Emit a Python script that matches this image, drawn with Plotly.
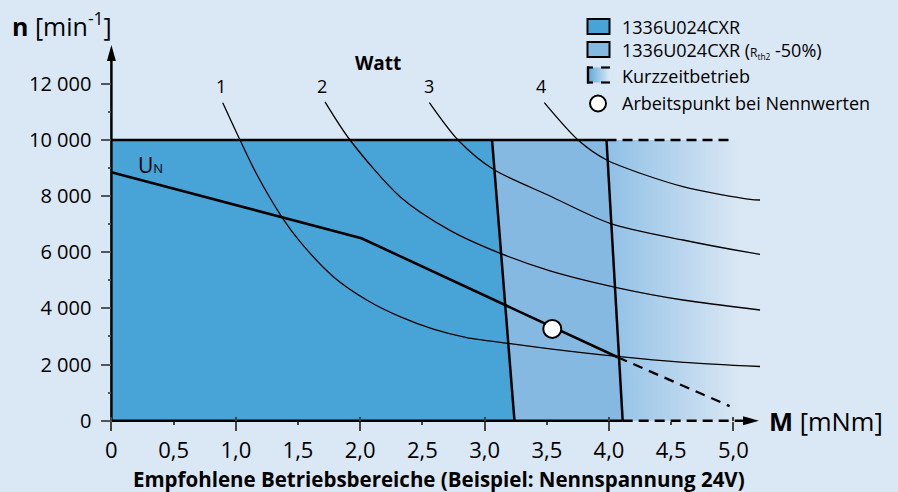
import plotly.graph_objects as go

# ---------------- data ----------------
x_tickvals = [0, 0.5, 1.0, 1.5, 2.0, 2.5, 3.0, 3.5, 4.0, 4.5, 5.0]
x_ticktext = ["0", "0,5", "1,0", "1,5", "2,0", "2,5", "3,0", "3,5", "4,0", "4,5", "5,0"]
x_major = [0, 1, 2, 3, 4, 5]
y_tickvals = [0, 2000, 4000, 6000, 8000, 10000, 12000]
y_ticktext = ["0", "2 000", "4 000", "6 000", "8 000", "10 000", "12 000"]
y_minor = [1000, 3000, 5000, 7000, 9000, 11000]

n_max = 10000
# continuous operation limits: torque at n_max (top) and at n=0 (bottom)
b1_M = [3.06, 3.24]
b2_M = [3.98, 4.11]
short_end_M = 4.97        # end of the dashed n_max line

# U_N characteristic
un_M = [0, 2.01, 4.07]
un_n = [8850, 6500, 2260]
un_dash_M = [4.07, 4.97]
un_dash_n = [2260, 520]

# operating point at rated values
op_M = [3.544]
op_n = [3270]

# power curves 1..4 W
w1_M = [0.895, 1.034, 1.168, 1.377, 1.516, 1.784, 2.052, 2.320, 2.588, 2.856, 3.190, 3.526, 4.064, 4.600, 5.214]
w1_n = [11330, 10000, 8780, 7210, 6380, 5130, 4300, 3705, 3260, 2960, 2757, 2560, 2290, 2080, 1930]
w2_M = [1.717, 1.918, 2.320, 2.718, 3.127, 3.526, 4.089, 4.595, 5.214]
w2_n = [11360, 10000, 7980, 6790, 5960, 5340, 4717, 4300, 3944]
w3_M = [2.556, 2.786, 3.070, 3.526, 4.007, 4.595, 5.134, 5.214]
w3_n = [11330, 10000, 8956, 8005, 7032, 6438, 5985, 5928]
w4_M = [3.480, 3.751, 3.982, 4.595, 5.134, 5.214]
w4_n = [11330, 10000, 9288, 8336, 7887, 7863]
watt_labels = ["1", "2", "3", "4"]
watt_label_M = [0.881, 1.69, 2.555, 3.45]

# ---------------- styling / layout geometry ----------------
W, H = 898, 492
L, R, T, B = 90, 790, 30, 445          # plot area in pixels
x_lo, x_hi = -0.17203, 5.45498
y_lo, y_hi = -865.7, 13918.8
x_arrow_tip = 5.206
y_arrow_tip = 13384

BG = "#dae7f4"
C1 = "#48a3d7"
C2 = "#85b9e1"
CG = "#8fc0e6"
FONT = "Open Sans"
NARROW = "Liberation Sans Narrow, Open Sans"

def pap_x(p):  # pixel -> paper
    return (p - L) / (R - L)

def pap_y(p):
    return (B - p) / (B - T)

dx_px = (x_hi - x_lo) / (R - L)   # data units per pixel
dy_px = (y_hi - y_lo) / (B - T)

fig = go.Figure()

# regions
fig.add_trace(go.Scatter(x=[0, 0, b1_M[0], b1_M[1]], y=[0, n_max, n_max, 0],
                         fill="toself", fillcolor=C1, mode="none", hoverinfo="skip"))
fig.add_trace(go.Scatter(x=[b1_M[1], b1_M[0], b2_M[0], b2_M[1]], y=[0, n_max, n_max, 0],
                         fill="toself", fillcolor=C2, mode="none", hoverinfo="skip"))
fig.add_trace(go.Scatter(x=[b2_M[1], b2_M[0], x_arrow_tip + 0.1, x_arrow_tip + 0.1], y=[0, n_max, n_max, 0],
                         fill="toself", mode="none", hoverinfo="skip",
                         fillgradient=dict(type="horizontal", start=b2_M[0], stop=5.05,
                                           colorscale=[[0, CG], [1, BG]])))

# power curves
for wm, wn in [(w1_M, w1_n), (w2_M, w2_n), (w3_M, w3_n), (w4_M, w4_n)]:
    fig.add_trace(go.Scatter(x=wm, y=wn, mode="lines",
                             line=dict(color="black", width=1.3, shape="spline", smoothing=0.8),
                             hoverinfo="skip"))

# limit lines
fig.add_trace(go.Scatter(x=b1_M, y=[n_max, 0], mode="lines", line=dict(color="black", width=2.5), hoverinfo="skip"))
fig.add_trace(go.Scatter(x=b2_M, y=[n_max, 0], mode="lines", line=dict(color="black", width=2.5), hoverinfo="skip"))
fig.add_trace(go.Scatter(x=[0, b2_M[0]], y=[n_max, n_max], mode="lines", line=dict(color="black", width=2.5), hoverinfo="skip"))
fig.add_trace(go.Scatter(x=[b2_M[0], short_end_M], y=[n_max, n_max], mode="lines",
                         line=dict(color="black", width=2.5, dash="10px,6px"), hoverinfo="skip"))
# axes lines
fig.add_trace(go.Scatter(x=[0, b2_M[1]], y=[0, 0], mode="lines", line=dict(color="black", width=2.5), hoverinfo="skip"))
fig.add_trace(go.Scatter(x=[b2_M[1], x_arrow_tip - 10 * dx_px], y=[0, 0], mode="lines",
                         line=dict(color="black", width=2.5, dash="10px,6px"), hoverinfo="skip"))
fig.add_trace(go.Scatter(x=[0, 0], y=[0, y_arrow_tip - 8 * dy_px], mode="lines",
                         line=dict(color="black", width=2.5), hoverinfo="skip"))

# U_N
fig.add_trace(go.Scatter(x=un_M, y=un_n, mode="lines", line=dict(color="black", width=2.6), hoverinfo="skip"))
fig.add_trace(go.Scatter(x=un_dash_M, y=un_dash_n, mode="lines",
                         line=dict(color="black", width=2.3, dash="10px,7px"), hoverinfo="skip"))
fig.add_trace(go.Scatter(x=op_M, y=op_n, mode="markers",
                         marker=dict(size=18, color="white", line=dict(color="black", width=2)), hoverinfo="skip"))

# dummy traces for overlay axes
fig.add_trace(go.Scatter(x=[0], y=[0], xaxis="x2", mode="markers", marker=dict(opacity=0), hoverinfo="skip"))
fig.add_trace(go.Scatter(x=[0], y=[0], xaxis="x3", mode="markers", marker=dict(opacity=0), hoverinfo="skip"))

x_pos = (0 - y_lo) / (y_hi - y_lo)
y_pos = (0 - x_lo) / (x_hi - x_lo)
common_x = dict(range=[x_lo, x_hi], showgrid=False, zeroline=False, showline=False, anchor="free", position=x_pos)

fig.update_layout(
    width=W, height=H, margin=dict(l=L, r=W - R, t=T, b=H - B),
    paper_bgcolor=BG, plot_bgcolor=BG, showlegend=False,
    font=dict(family=FONT, color="black"),
    xaxis=dict(**common_x, tickmode="array", tickvals=x_tickvals, ticktext=x_ticktext,
               ticks="outside", ticklen=3, tickwidth=1.5, tickcolor="#444",
               tickfont=dict(family=NARROW, size=22), ticklabelstandoff=7),
    xaxis2=dict(**common_x, overlaying="x", tickmode="array", tickvals=x_major, ticks="outside",
                ticklen=9, tickwidth=1.5, tickcolor="#444", showticklabels=False),
    xaxis3=dict(**common_x, overlaying="x", tickmode="array", tickvals=x_major, ticks="inside",
                ticklen=4, tickwidth=1.5, tickcolor="#444", showticklabels=False),
    yaxis=dict(range=[y_lo, y_hi], showgrid=False, zeroline=False, showline=False, anchor="free", position=y_pos,
               tickmode="array", tickvals=y_tickvals, ticktext=y_ticktext,
               ticks="outside", ticklen=10, tickwidth=1.5, tickcolor="#555",
               tickfont=dict(family=FONT, size=20), ticklabelstandoff=6,
               minor=dict(tickvals=y_minor, ticks="outside", ticklen=3, tickwidth=1.5, tickcolor="#555")),
)

# arrowheads
ah_len, ah_half = 16, 4.5
fig.add_shape(type="path", xref="x", yref="y", fillcolor="black", line=dict(width=0),
              path=f"M {-ah_half*dx_px},{y_arrow_tip-ah_len*dy_px} L 0,{y_arrow_tip} "
                   f"L {ah_half*dx_px},{y_arrow_tip-ah_len*dy_px} Z")
fig.add_shape(type="path", xref="x", yref="y", fillcolor="black", line=dict(width=0),
              path=f"M {x_arrow_tip-ah_len*dx_px},{-ah_half*dy_px} L {x_arrow_tip},0 "
                   f"L {x_arrow_tip-ah_len*dx_px},{ah_half*dy_px} Z")

# text labels
ann = []
for lab, xm in zip(watt_labels, watt_label_M):
    ann.append(dict(x=xm, y=11920, xref="x", yref="y", text=lab, showarrow=False,
                    xanchor="center", yanchor="middle", font=dict(size=18)))
ann.append(dict(x=2.143, y=12740, xref="x", yref="y", text="<b>Watt</b>", showarrow=False,
                xanchor="center", yanchor="middle", font=dict(size=19)))
ann.append(dict(x=0.20, y=9110, xref="x", yref="y", xanchor="left", yanchor="middle",
                text="U<span style='font-size:13px'>N</span>", showarrow=False, font=dict(size=21)))
ann.append(dict(x=pap_x(10), y=pap_y(24), xref="paper", yref="paper", xanchor="left", yanchor="middle",
                text="<b>n</b> [min<sup>-1</sup>]", showarrow=False, font=dict(size=25)))
ann.append(dict(x=pap_x(767), y=pap_y(421), xref="paper", yref="paper", xanchor="left", yanchor="middle",
                text="<b>M</b> [mNm]", showarrow=False, font=dict(size=25.5)))
ann.append(dict(x=pap_x(439), y=pap_y(479), xref="paper", yref="paper", xanchor="center", yanchor="middle",
                text="<b>Empfohlene Betriebsbereiche (Beispiel: Nennspannung 24V)</b>", showarrow=False,
                font=dict(family=NARROW, size=20.5)))

# legend
leg_texts = ["1336U024CXR",
             "1336U024CXR (<span style='font-size:12px'>R<sub>th2</sub></span> -50%)",
             "Kurzzeitbetrieb",
             "Arbeitspunkt bei Nennwerten"]
leg_y = [26.5, 50, 76, 103]
for t, yy in zip(leg_texts, leg_y):
    ann.append(dict(x=pap_x(620), y=pap_y(yy), xref="paper", yref="paper", xanchor="left", yanchor="middle",
                    text=t, showarrow=False, font=dict(size=18)))
fig.update_layout(annotations=ann)

def prect(x0, y0, x1, y1, **kw):
    fig.add_shape(type="rect", xref="paper", yref="paper", x0=pap_x(x0), x1=pap_x(x1),
                  y0=pap_y(y0), y1=pap_y(y1), **kw)

def pline(x0, y0, x1, y1, w=2.2):
    fig.add_shape(type="line", xref="paper", yref="paper", x0=pap_x(x0), x1=pap_x(x1),
                  y0=pap_y(y0), y1=pap_y(y1), line=dict(color="black", width=w))

prect(587.5, 19, 609.5, 34, fillcolor=C1, line=dict(color="black", width=2))
prect(587.5, 42, 609.5, 57, fillcolor=C2, line=dict(color="black", width=2))

# gradient swatch
def hex2rgb(h):
    return tuple(int(h[i:i + 2], 16) for i in (1, 3, 5))
c_a, c_b = hex2rgb("#62aadc"), hex2rgb(BG)
steps = 22
for i in range(steps):
    f = i / (steps - 1)
    c = tuple(round(c_a[k] + (c_b[k] - c_a[k]) * f) for k in range(3))
    prect(588 + i, 67.5, 589.2 + i, 82.5, fillcolor="rgb(%d,%d,%d)" % c, line=dict(width=0))
pline(588, 66.5, 588, 83.5, 2.4)
pline(587, 67.5, 593, 67.5)
pline(587, 82.5, 593, 82.5)
pline(601, 67.5, 610, 67.5)
pline(601, 82.5, 610, 82.5)
fig.add_shape(type="circle", xref="paper", yref="paper", x0=pap_x(590), x1=pap_x(606),
              y0=pap_y(95.5), y1=pap_y(111.5),
              fillcolor="white", line=dict(color="black", width=2))

fig.write_html("out.html", config={"displayModeBar": False},
               post_script="document.body.style.margin='0';document.body.style.overflow='hidden';")
